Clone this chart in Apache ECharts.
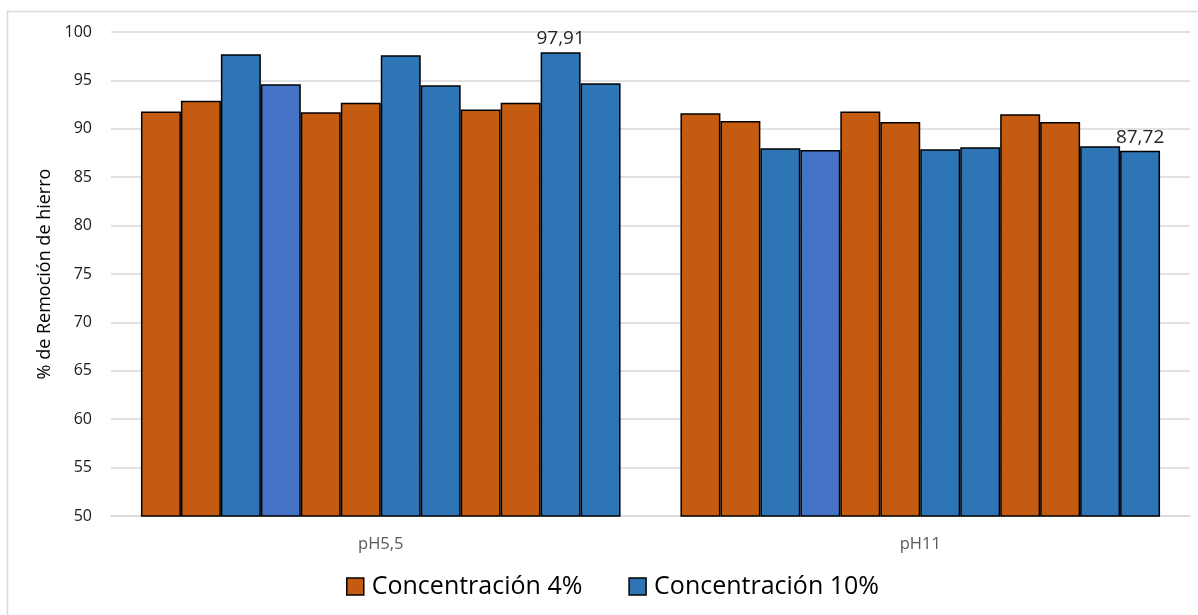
<!DOCTYPE html>
<html>
<head>
<meta charset="utf-8">
<style>
  html, body { margin: 0; padding: 0; background: #ffffff; }
  #chart { width: 1198px; height: 615px; }
</style>
<script src="https://cdn.jsdelivr.net/npm/echarts@6/dist/echarts.min.js"></script>
</head>
<body>
<div id="chart"></div>
<script>
// Categories (pH of the solution)
const categories = ['pH5,5', 'pH11'];

// Iron removal (%) for each of the 12 runs, listed as [pH5,5, pH11]
const run1  = [91.8, 91.6];
const run2  = [92.9, 90.8];
const run3  = [97.7, 88.0];
const run4  = [94.6, 87.8];
const run5  = [91.7, 91.8];
const run6  = [92.7, 90.7];
const run7  = [97.6, 87.9];
const run8  = [94.5, 88.1];
const run9  = [92.0, 91.5];
const run10 = [92.7, 90.7];
const run11 = [97.91, 88.2];
const run12 = [94.7, 87.72];

const runs = [run1, run2, run3, run4, run5, run6, run7, run8, run9, run10, run11, run12];
const runNames = [
  'Concentración 4%', 'Concentración 4%', 'Concentración 10%', 'Concentración 10%',
  'Concentración 4%', 'Concentración 4%', 'Concentración 10%', 'Concentración 10%',
  'Concentración 4%', 'Concentración 4%', 'Concentración 10%', 'Concentración 10%'
];

// Y-axis ticks
const yTicks = [50, 55, 60, 65, 70, 75, 80, 85, 90, 95, 100];

// Values shown as data labels: [run index, category index]
const labelled = [[10, 0], [11, 1]];

const ORANGE = '#C55A11';
const BLUE = '#2E75B6';
const BLUE_ALT = '#4472C4';
const runColors = [ORANGE, ORANGE, BLUE, BLUE_ALT, ORANGE, ORANGE, BLUE, BLUE, ORANGE, ORANGE, BLUE, BLUE];

const FONT = '"Open Sans", "Noto Sans", sans-serif';

const fmt = v => v.toFixed(2).replace('.', ',');

const series = runs.map((vals, i) => ({
  type: 'bar',
  name: runNames[i],
  barGap: '0%',
  barCategoryGap: '11.1%',
  itemStyle: { color: runColors[i], borderColor: '#000000', borderWidth: 1.5 },
  data: vals.map((v, c) => {
    const item = { value: v };
    if (labelled.some(([r, k]) => r === i && k === c)) {
      item.label = {
        show: true,
        position: 'top',
        distance: 4,
        formatter: p => fmt(p.value),
        fontFamily: FONT,
        fontSize: 19,
        color: '#262626'
      };
    }
    return item;
  })
}));

const chart = echarts.init(document.getElementById('chart'));
chart.setOption({
  animation: false,
  backgroundColor: '#ffffff',
  graphic: [{
    type: 'rect',
    shape: { x: 7.5, y: 11.5, width: 1200, height: 620 },
    style: { fill: 'none', stroke: '#d9d9d9', lineWidth: 1.5 },
    silent: true,
    z: -1
  }],
  grid: { left: 111, right: 8, top: 32, bottom: 99, containLabel: false },
  legend: {
    data: ['Concentración 4%', 'Concentración 10%'],
    top: 574,
    left: 346,
    padding: 0,
    itemWidth: 17,
    itemHeight: 17,
    itemGap: 46,
    icon: 'rect',
    itemStyle: { borderColor: '#000000', borderWidth: 1.5 },
    textStyle: { fontFamily: FONT, fontSize: 25, color: '#000000', padding: [0, 0, 0, 3] }
  },
  xAxis: {
    type: 'category',
    data: categories,
    axisLine: { show: true, lineStyle: { color: '#d9d9d9', width: 1.5 } },
    axisTick: { show: false },
    axisLabel: { fontFamily: FONT, fontSize: 16.5, color: '#595959', margin: 20 }
  },
  yAxis: {
    type: 'value',
    min: yTicks[0],
    max: yTicks[yTicks.length - 1],
    interval: yTicks[1] - yTicks[0],
    name: '% de Remoción de hierro',
    nameLocation: 'middle',
    nameGap: 57,
    nameTextStyle: { fontFamily: FONT, fontSize: 18, color: '#000000' },
    axisLine: { show: false },
    axisTick: { show: false },
    axisLabel: { fontFamily: FONT, fontSize: 16, color: '#1a1a1a', margin: 19 },
    splitLine: { lineStyle: { color: '#d9d9d9', width: 1.5 } }
  },
  series: series
});
</script>
</body>
</html>
